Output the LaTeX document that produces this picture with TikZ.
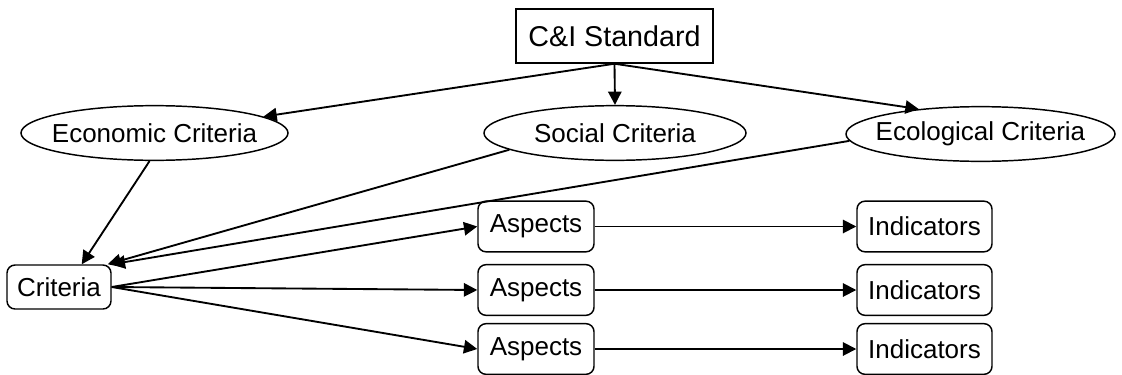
\documentclass[tikz,border=0pt]{standalone}
\usepackage{fontspec}
\setmainfont{Liberation Sans}
\usepackage{tikz}
\usetikzlibrary{arrows.meta,positioning,shapes.geometric}

\begin{document}
\begin{tikzpicture}[
    x=0.75pt, y=-0.75pt,
    standard/.style={draw, line width=1.1pt, inner sep=0pt, minimum width=147.75pt, minimum height=40.5pt, font=\fontsize{21.5}{25}\selectfont},
    criterion/.style={draw, ellipse, line width=1.1pt, inner ysep=0pt, inner xsep=-8pt, minimum height=41pt, font=\fontsize{19.5}{23}\selectfont},
    item/.style={draw, rounded corners=6pt, line width=1.1pt, inner sep=0pt, minimum height=38pt, font=\fontsize{19.5}{23}\selectfont},
    link/.style={-{Triangle[length=10pt,width=10pt]}, line width=1.4pt}
]
\useasboundingbox (0,0) rectangle (1122,375);

\node[standard] (cis) at (614.5,36) {C\&I Standard};
\node[criterion, minimum width=200.25pt] (eco) at (154.5,133) {Economic Criteria};
\node[criterion, minimum width=196.5pt] (soc) at (615,133) {Social Criteria};
\node[criterion, minimum width=201.75pt] (ecol) at (980.5,134) {Ecological Criteria};

\node[item, minimum width=78pt, minimum height=33pt] (crit) at (59,287) {Criteria};
\node[item, minimum width=87pt] (asp1) at (536,226.5) {Aspects};
\node[item, minimum width=87pt] (asp2) at (536,290) {Aspects};
\node[item, minimum width=87pt] (asp3) at (536,349) {Aspects};
\node[item, minimum width=101.25pt] (ind1) at (924.5,226.5) {Indicators};
\node[item, minimum width=101.25pt] (ind2) at (924.5,290) {Indicators};
\node[item, minimum width=101.25pt] (ind3) at (924.5,349) {Indicators};

\draw[link] (cis.south) -- (eco);
\draw[link] (cis.south) -- (soc.north);
\draw[link] (cis.south) -- (ecol.158);

\draw[link] (eco.260) -- (crit.45);
\draw[link] (soc.189) -- ([xshift=-3pt]crit.north east);
\draw[link] (ecol.183) -- (crit.north east);

\draw[link] (crit.east) -- (asp1.west);
\draw[link] (crit.east) -- (asp2.west);
\draw[link] (crit.east) -- (asp3.west);
\draw[link] (asp1) -- (ind1);
\draw[link] (asp2) -- (ind2);
\draw[link] (asp3) -- (ind3);
\end{tikzpicture}
\end{document}
